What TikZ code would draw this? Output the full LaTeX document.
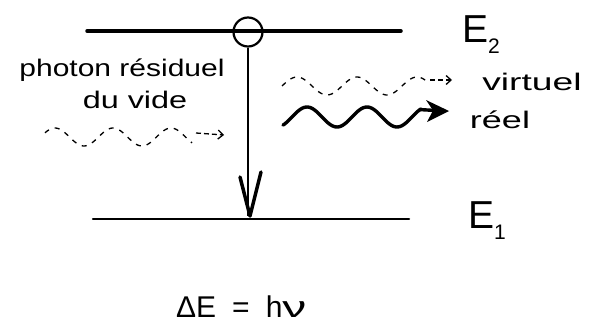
\documentclass[tikz,border=0pt]{standalone}
\usepackage{fontspec}
\setmainfont{Liberation Sans}
\usetikzlibrary{arrows.meta}
\begin{document}
\begin{tikzpicture}[x=1pt,y=-1pt,
  level/.style={line width=3pt, line cap=round},
  hand/.style={inner sep=0pt, font=\fontsize{24}{26}\selectfont},
  big/.style={inner sep=0pt, anchor=base west, font=\fontsize{39}{42}\selectfont},
  dwave/.style={line width=1.3pt, dash pattern=on 5pt off 6pt},
  swave/.style={line width=3.4pt, line cap=round}
]
\useasboundingbox (0,0) rectangle (589,324);
% energy levels
\coordinate (u1) at (87,31);
\coordinate (u2) at (401,31);
\coordinate (l1) at (93,219);
\coordinate (l2) at (409,219);
\draw[level, line width=3.5pt] (u1) -- (u2);
\draw[level, line width=2.5pt] (l1) -- (l2);
% electron circle
\node[circle, draw, line width=2.2pt, minimum size=29pt, inner sep=0pt] (c) at (248,32) {};
% transition
\coordinate (b) at (250,216);
\draw[line width=1.5pt] (c.south) -- (c.south |- b);
\coordinate (hl) at (240,177);
\coordinate (hr) at (261,172);
\draw[line width=3.5pt, line cap=round, line join=round] (hl) -- (b) -- (hr);
% level labels
\node[big] (E2) at (462,42) {E\raisebox{-0.3em}{\fontsize{21}{23}\selectfont 2}};
\node[big] (E1) at (468,228) {E\raisebox{-0.3em}{\fontsize{21}{23}\selectfont 1}};
% handwritten labels
\node[hand] (t1) at (122,70) {\scalebox{1.25}[1]{photon résiduel}};
\node[hand] (t2) at (135,100) {\scalebox{1.35}[1]{du vide}};
\node[hand] (t3) at (532,82) {\scalebox{1.55}[1]{virtuel}};
\node[hand] (t4) at (500,120) {\scalebox{1.5}[1]{réel}};
% residual vacuum photon (dashed wave)
\draw[dwave] plot[domain=45:192, samples=80, smooth] (\x, {137-9*cos((\x-55)/58*360)});
\coordinate (a1) at (196,133);
\coordinate (a2) at (224,135);
\draw[dwave, dash pattern=on 5pt off 3pt, -{Straight Barb[length=5pt,width=9pt]}] (a1) -- (a2);
% virtual photon (dashed wave)
\draw[dwave] plot[domain=282:428, samples=80, smooth] (\x, {86-9*cos((\x-297)/60*360)});
\coordinate (v1) at (430,80);
\coordinate (v2) at (452,80);
\draw[dwave, dash pattern=on 5pt off 3pt, -{Straight Barb[length=5pt,width=9pt]}] (v1) -- (v2);
% real photon (solid wave)
\draw[swave] plot[domain=283:421, samples=80, smooth] (\x, {117-10*cos((\x-307)/60*360)});
\coordinate (r1) at (420,109.6);
\coordinate (r2) at (436,110.5);
\coordinate (rt) at (449,111);
\draw[swave] (r1) -- (r2);
\fill[line join=round] (rt) -- (426,100) -- (433,110.5) -- (427,122) -- cycle;
% energy relation
\node[big, font=\fontsize{30}{34}\selectfont] (rel) at (176,317) {ΔE\hspace{16pt}=\hspace{16pt}h\scalebox{1.6}[1]{ν}};
\end{tikzpicture}
\end{document}
